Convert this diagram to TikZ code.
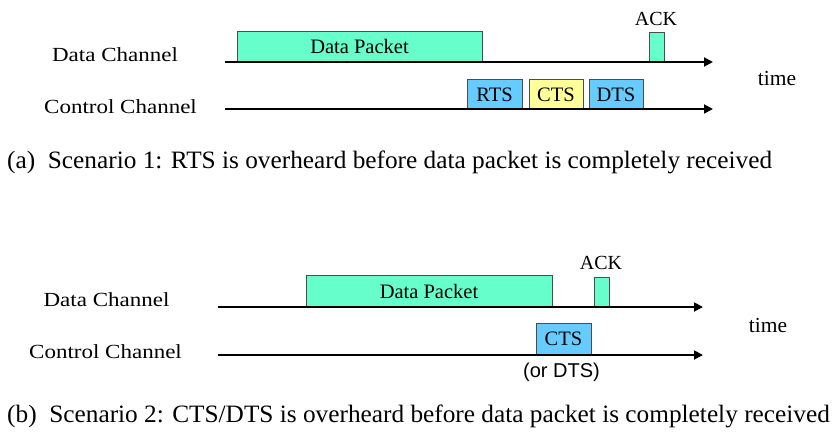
\documentclass[tikz,border=0pt]{standalone}
\usepackage{fontspec}
\setmainfont{Liberation Serif}
\newfontfamily\widefont[FakeStretch=1.15]{Liberation Serif}
\newfontfamily\capfont[FakeStretch=1.012]{Liberation Serif}
\newfontfamily\armfont{Liberation Sans}
\usetikzlibrary{arrows.meta}
\definecolor{pktgreen}{HTML}{66FFCC}
\definecolor{ctlblue}{HTML}{66CCFF}
\definecolor{ctlyellow}{HTML}{FFFF99}
\tikzset{
  axisline/.style={line width=1.8pt,-{Triangle[length=9pt,width=9pt]}},
  pkt/.style={draw=black!70,line width=0.7pt},
  lbl/.style={font=\widefont\fontsize{20}{21}\selectfont,inner sep=0pt},
  boxlbl/.style={font=\fontsize{20.5}{21}\selectfont,inner sep=0pt},
  acklbl/.style={font=\fontsize{20}{21}\selectfont,inner sep=0pt},
  timelbl/.style={font=\fontsize{21.5}{22}\selectfont,inner sep=0pt},
  captext/.style={font=\capfont\fontsize{25}{26}\selectfont,inner sep=0pt,anchor=west},
}
\begin{document}
\begin{tikzpicture}[x=1pt,y=-1pt]
\useasboundingbox (0,0) rectangle (836,433);
% ---- Scenario 1 ----
\coordinate (d1s) at (225,62);
\coordinate (d1e) at (713,62);
\coordinate (c1s) at (225,109);
\coordinate (c1e) at (713,109);
\draw[pkt,fill=pktgreen] (237,31) rectangle (482,62);
\node[boxlbl] (dp1) at (359.5,46.5) {Data Packet};
\draw[pkt,fill=pktgreen] (649,32) rectangle (664,62);
\node[acklbl] (ack1) at (656,19) {ACK};
\draw[pkt,fill=ctlblue] (467,79) rectangle (522,109);
\node[boxlbl] (rts1) at (494.5,95) {RTS};
\draw[pkt,fill=ctlyellow] (529,79) rectangle (583,109);
\node[boxlbl] (cts1) at (556,95) {CTS};
\draw[pkt,fill=ctlblue] (589,79) rectangle (643,109);
\node[boxlbl] (dts1) at (616,95) {DTS};
\draw[axisline] (d1s) -- (d1e);
\draw[axisline] (c1s) -- (c1e);
\node[lbl] (dch1) at (115,55) {Data Channel};
\node[lbl] (cch1) at (120.5,107) {Control Channel};
\node[timelbl] (time1) at (777,78) {time};
\node[captext] (capa) at (7,162) {(a)\ \ Scenario 1: RTS is overheard before data packet is completely received};
% ---- Scenario 2 ----
\coordinate (d2s) at (218,307);
\coordinate (d2e) at (703,307);
\coordinate (c2s) at (218,355);
\coordinate (c2e) at (703,355);
\draw[pkt,fill=pktgreen] (306,275) rectangle (552,307);
\node[boxlbl] (dp2) at (429,291) {Data Packet};
\draw[pkt,fill=pktgreen] (594,277) rectangle (609,307);
\node[acklbl] (ack2) at (601,263) {ACK};
\draw[pkt,fill=ctlblue] (536,323) rectangle (591,355);
\node[boxlbl] (cts2) at (563.5,339) {CTS};
\draw[axisline] (d2s) -- (d2e);
\draw[axisline] (c2s) -- (c2e);
\node[font=\armfont\fontsize{20}{21}\selectfont,inner sep=0pt] (ordts) at (561.5,372) {(or DTS)};
\node[lbl] (dch2) at (106.5,300) {Data Channel};
\node[lbl] (cch2) at (105.5,352) {Control Channel};
\node[timelbl] (time2) at (768,325) {time};
\node[captext] (capb) at (7,416) {(b)\ \ Scenario 2: CTS/DTS is overheard before data packet is completely received};
\end{tikzpicture}
\end{document}
